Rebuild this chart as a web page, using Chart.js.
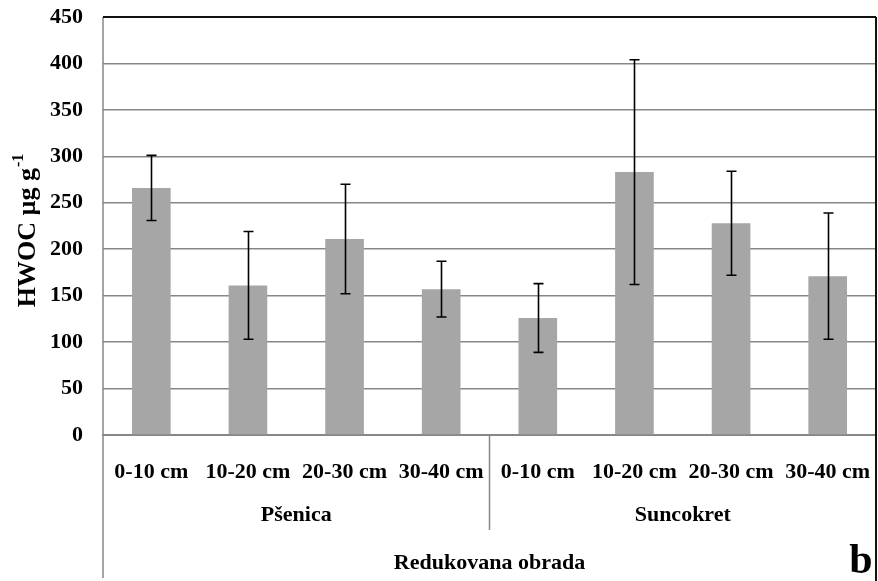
<!DOCTYPE html>
<html>
<head>
<meta charset="utf-8">
<script src="https://cdn.jsdelivr.net/npm/chart.js@4"></script>
<style>
  html, body { margin: 0; padding: 0; background: #fff; }
  #wrap { width: 878px; height: 581px; }
</style>
</head>
<body>
<div id="wrap"><canvas id="chart" width="878" height="581"></canvas></div>
<script>
const depths = ["0-10 cm", "10-20 cm", "20-30 cm", "30-40 cm", "0-10 cm", "10-20 cm", "20-30 cm", "30-40 cm"];
const crops = ["Pšenica", "Suncokret"];
const tillage = "Redukovana obrada";
const hwoc = [266, 161, 211, 157, 126, 283, 228, 171];
const hwocSd = [35, 58, 59, 30, 37, 121, 56, 68];
const yTicks = [0, 50, 100, 150, 200, 250, 300, 350, 400, 450];

const FONT = "'Liberation Serif', 'Times New Roman', serif";
const GRID = "#878787";

// error bars on top of the bars
const errorBars = {
  id: "errorBars",
  afterDatasetsDraw(chart) {
    const ctx = chart.ctx;
    const y = chart.scales.y;
    const meta = chart.getDatasetMeta(0);
    ctx.save();
    ctx.strokeStyle = "#000";
    ctx.lineWidth = 1.6;
    meta.data.forEach((bar, i) => {
      const x = Math.round(bar.x) + 0.5;
      const top = y.getPixelForValue(hwoc[i] + hwocSd[i]);
      const bot = y.getPixelForValue(hwoc[i] - hwocSd[i]);
      ctx.beginPath();
      ctx.moveTo(x, top); ctx.lineTo(x, bot);
      ctx.moveTo(x - 5, top); ctx.lineTo(x + 5, top);
      ctx.moveTo(x - 5, bot); ctx.lineTo(x + 5, bot);
      ctx.stroke();
    });
    ctx.restore();
  }
};

// frame, group labels and y title
const extras = {
  id: "extras",
  afterDraw(chart) {
    const ctx = chart.ctx;
    const a = chart.chartArea;
    const x = chart.scales.x;
    const H = chart.height;
    ctx.save();
    // left axis line runs to the bottom of the table
    ctx.strokeStyle = GRID;
    ctx.lineWidth = 1.5;
    ctx.beginPath();
    ctx.moveTo(a.left, a.top); ctx.lineTo(a.left, H - 3);
    ctx.stroke();
    // separator between the two crops
    const sep = (x.getPixelForValue(3) + x.getPixelForValue(4)) / 2;
    ctx.beginPath();
    ctx.moveTo(sep, a.bottom); ctx.lineTo(sep, a.bottom + 95);
    ctx.stroke();
    // top and right border
    ctx.strokeStyle = "#111";
    ctx.lineWidth = 2;
    ctx.beginPath();
    ctx.moveTo(a.left, a.top); ctx.lineTo(a.right, a.top);
    ctx.moveTo(a.right, a.top); ctx.lineTo(a.right, H);
    ctx.stroke();

    ctx.fillStyle = "#000";
    ctx.textAlign = "center";
    ctx.textBaseline = "middle";
    ctx.font = "bold 22px " + FONT;
    const g1 = (a.left + sep) / 2, g2 = (sep + a.right) / 2;
    ctx.fillText(crops[0], g1, a.bottom + 80);
    ctx.fillText(crops[1], g2, a.bottom + 80);
    ctx.fillText(tillage, (a.left + a.right) / 2, a.bottom + 128);
    ctx.font = "bold 42px " + FONT;
    ctx.textBaseline = "alphabetic";
    ctx.fillText("b", 861, 573);

    // rotated y title with superscript
    ctx.translate(28, 231);
    ctx.rotate(-Math.PI / 2);
    ctx.textAlign = "left";
    ctx.textBaseline = "middle";
    const main = "HWOC µg g";
    ctx.font = "bold 26px " + FONT;
    const w1 = ctx.measureText(main).width;
    ctx.font = "bold 16px " + FONT;
    const w2 = ctx.measureText("-1").width;
    const start = -(w1 + w2) / 2;
    ctx.font = "bold 26px " + FONT;
    ctx.fillText(main, start, 0);
    ctx.font = "bold 16px " + FONT;
    ctx.fillText("-1", start + w1 + 1, -9);
    ctx.restore();
  }
};

new Chart(document.getElementById("chart"), {
  type: "bar",
  data: {
    labels: depths,
    datasets: [{
      data: hwoc,
      backgroundColor: "#a6a6a6",
      borderWidth: 0,
      barPercentage: 0.4,
      categoryPercentage: 1
    }]
  },
  options: {
    responsive: false,
    animation: false,
    layout: { padding: { top: 17, right: 2, left: 0, bottom: 0 } },
    plugins: { legend: { display: false }, tooltip: { enabled: false } },
    scales: {
      x: {
        grid: { display: false, drawTicks: false },
        border: { display: true, color: GRID, width: 2 },
        ticks: {
          color: "#000",
          padding: 24,
          maxRotation: 0,
          autoSkip: false,
          font: { family: FONT, size: 22, weight: "bold" }
        },
        afterFit(s) { s.height = 146; s.paddingLeft = 0; s.paddingRight = 0; }
      },
      y: {
        min: 0,
        max: 450,
        afterBuildTicks(s) { s.ticks = yTicks.map(v => ({ value: v })); },
        grid: {
          drawTicks: false,
          lineWidth: 1.5,
          color: c => (c.tick && c.tick.value === 450 ? "#111" : GRID)
        },
        border: { display: false },
        ticks: {
          color: "#000",
          padding: 20,
          font: { family: FONT, size: 22, weight: "bold" }
        },
        afterFit(s) { s.width = 103; s.paddingTop = 0; s.paddingBottom = 0; }
      }
    }
  },
  plugins: [errorBars, extras]
});
</script>
</body>
</html>
